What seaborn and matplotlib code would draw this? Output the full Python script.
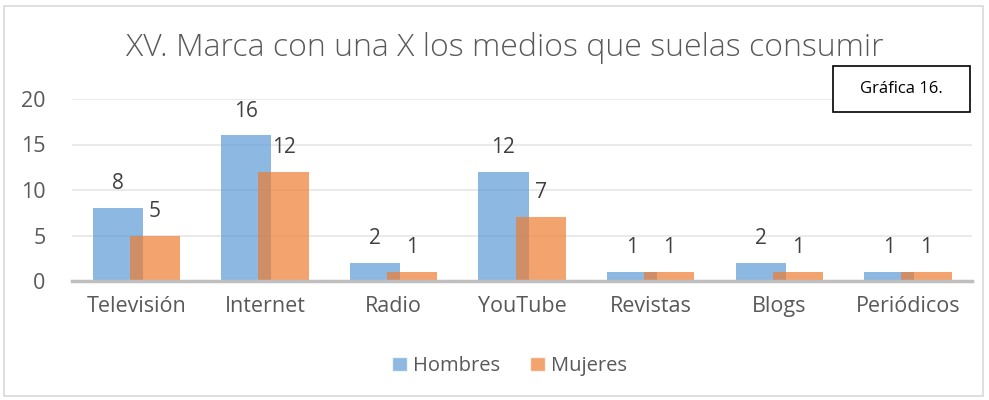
import pandas as pd
import seaborn as sns
import matplotlib.pyplot as plt
from matplotlib.patches import Rectangle

medios = ["Televisión", "Internet", "Radio", "YouTube", "Revistas", "Blogs", "Periódicos"]
hombres = [8, 16, 2, 12, 1, 2, 1]
mujeres = [5, 12, 1, 7, 1, 1, 1]
grupos = ["Hombres", "Mujeres"]
y_ticks = [0, 5, 10, 15, 20]

df = pd.DataFrame({
    "medio": medios * 2,
    "valor": hombres + mujeres,
    "grupo": [grupos[0]] * len(medios) + [grupos[1]] * len(medios),
})

sns.set_theme(style="white")
plt.rcParams["font.family"] = ["Open Sans", "DejaVu Sans"]
gris = "#595959"

fig = plt.figure(figsize=(9.89, 4.0), dpi=100)
ax = fig.add_axes([0.0728, 0.2975, 0.9102, 0.455])

colors = ["#5B9BD5", "#ED7D31"]
sns.barplot(data=df, x="medio", y="valor", hue="grupo", palette=colors,
            width=0.78, dodge=True, alpha=0.7, saturation=1, ax=ax, legend=False)

# Excel-style overlap: pull the two bars of each group toward each other
shift = 0.05
for cont, s in zip(ax.containers, [shift, -shift]):
    for p in cont:
        p.set_x(p.get_x() + s)
        p.set_edgecolor("none")
    ax.bar_label(cont, padding=10, fontsize=15, color="#404040")

ax.set_xlim(-0.5, len(medios) - 0.5)
ax.set_ylim(0, 20)
ax.set_yticks(y_ticks)
ax.yaxis.grid(True, color="#E6E6E6", linewidth=1.2)
ax.set_axisbelow(True)
for side in ["top", "right", "left"]:
    ax.spines[side].set_visible(False)
ax.spines["bottom"].set_color("#BFBFBF")
ax.spines["bottom"].set_linewidth(2.5)
ax.tick_params(axis="x", length=0, pad=11, labelsize=15.5, labelcolor=gris)
ax.tick_params(axis="y", length=0, pad=19, labelsize=15.5, labelcolor=gris)
ax.set_xlabel("")
ax.set_ylabel("")

fig.text(0.51, 0.88, "XV. Marca con una X los medios que suelas consumir",
         ha="center", va="center", fontsize=23, color=gris, fontweight="light")

# "Gráfica 16." label box
fig.patches.append(Rectangle((0.8423, 0.72), 0.1385, 0.115, transform=fig.transFigure,
                             facecolor="white", edgecolor="black", linewidth=1.2))
fig.text(0.9115, 0.7775, "Gráfica 16.", ha="center", va="center", fontsize=12,
         color="black")

handles = [Rectangle((0, 0), 1, 1, facecolor=c, alpha=0.7) for c in colors]
fig.legend(handles, grupos, loc="center", bbox_to_anchor=(0.515, 0.085), ncol=2,
           frameon=False, fontsize=14.5, labelcolor=gris, handlelength=0.75,
           handleheight=0.75, handletextpad=0.3, columnspacing=1.5)

fig.patches.append(Rectangle((0.004, 0.01), 0.99, 0.975, transform=fig.transFigure,
                             fill=False, edgecolor="#D9D9D9", linewidth=1.2))

fig.savefig("out.png", dpi=100)
